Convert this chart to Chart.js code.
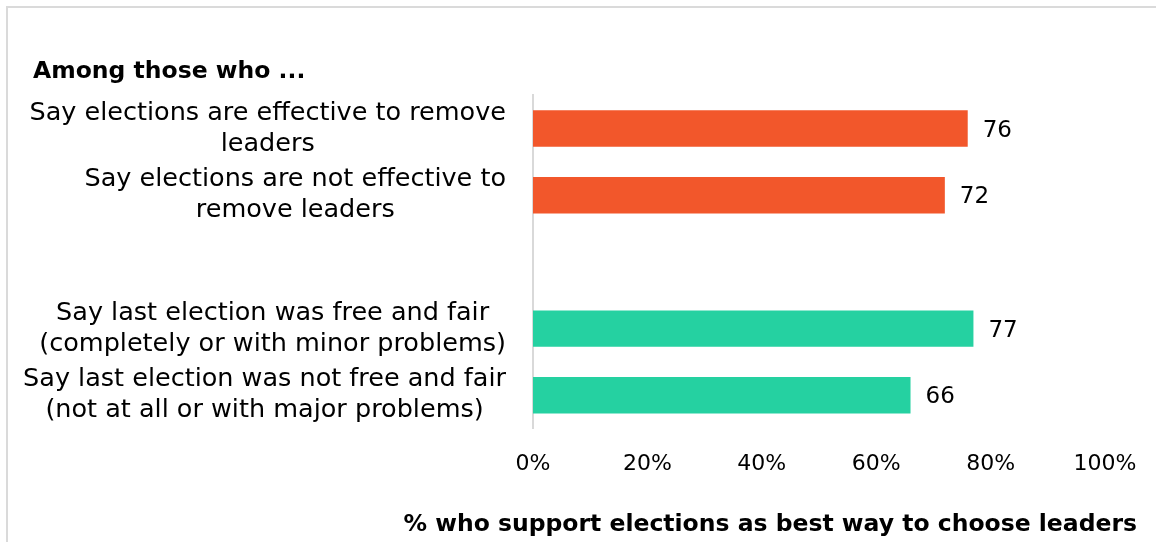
<!DOCTYPE html>
<html>
<head>
<meta charset="utf-8">
<script src="https://cdn.jsdelivr.net/npm/chart.js@4.4.1/dist/chart.umd.min.js"></script>
<style>
  html, body { margin: 0; padding: 0; background: #fff; overflow: hidden; }
  #frame { position: absolute; left: 6px; top: 6px; width: 1200px; height: 600px;
           border-top: 2px solid #dadada; border-left: 2px solid #dadada; }
  #wrap { position: absolute; left: 0; top: 0; width: 1156px; height: 542px; }
</style>
</head>
<body>
<div id="frame"></div>
<div id="wrap"><canvas id="chart"></canvas></div>
<script>
// --- データ ---
const categories = [
    ['Say elections are effective to remove', 'leaders'],
    ['Say elections are not effective to', 'remove leaders'],
    [''],
    ['Say last election was free and fair', '(completely or with minor problems)'],
    ['Say last election was not free and fair', '(not at all or with major problems)']
];
const values = [76, 72, null, 77, 66];
const barColors = ['#F2572B', '#F2572B', '#ffffff', '#25D1A1', '#25D1A1'];
const xTicks = [0, 20, 40, 60, 80, 100];
const chartTitle = 'Among those who ...';
const axisTitle = '% who support elections as best way to choose leaders';

const FONT = '"DejaVu Sans", sans-serif';

// カテゴリラベル: 各ラベル内で中央揃え、ブロックは右揃え
const categoryLabelPlugin = {
    id: 'categoryLabels',
    afterDraw(chart) {
        const { ctx, scales: { y } } = chart;
        ctx.save();
        ctx.font = `25.5px ${FONT}`;
        ctx.fillStyle = '#000';
        ctx.textAlign = 'center';
        ctx.textBaseline = 'middle';
        const rightEdge = y.right - 27;
        categories.forEach((lines, i) => {
            const maxW = Math.max(...lines.map(l => ctx.measureText(l).width));
            const cx = rightEdge - maxW / 2;
            const cy = y.getPixelForValue(i);
            lines.forEach((line, j) => {
                ctx.fillText(line, cx, cy + (j - (lines.length - 1) / 2) * 31);
            });
        });
        ctx.restore();
    }
};

// 値ラベル
const valueLabelPlugin = {
    id: 'valueLabels',
    afterDatasetsDraw(chart) {
        const { ctx } = chart;
        const meta = chart.getDatasetMeta(0);
        ctx.save();
        ctx.font = `23px ${FONT}`;
        ctx.fillStyle = '#000';
        ctx.textAlign = 'left';
        ctx.textBaseline = 'middle';
        meta.data.forEach((bar, i) => {
            if (values[i] == null) return;
            ctx.fillText(String(values[i]), bar.x + 15, bar.y + 2);
        });
        ctx.restore();
    }
};

new Chart(document.getElementById('chart'), {
    type: 'bar',
    data: {
        labels: categories,
        datasets: [{
            data: values,
            backgroundColor: barColors,
            barPercentage: 0.545,
            categoryPercentage: 1
        }]
    },
    options: {
        indexAxis: 'y',
        responsive: true,
        maintainAspectRatio: false,
        animation: false,
        layout: { padding: { left: 33, right: 19, top: 0, bottom: 3 } },
        scales: {
            x: {
                min: 0,
                max: 100,
                grid: { display: false, drawTicks: false },
                border: { display: false },
                afterBuildTicks: (scale) => { scale.ticks = xTicks.map(v => ({ value: v })); },
                afterFit: (scale) => { scale.paddingRight = 51; },
                ticks: {
                    color: '#000',
                    padding: 22,
                    font: { family: FONT, size: 22 },
                    callback: (v) => v + '%'
                }
            },
            y: {
                grid: { display: false, drawTicks: false },
                border: { display: true, color: '#d9d9d9', width: 2 },
                ticks: { display: false },
                afterFit: (scale) => { scale.width = 500; }
            }
        },
        plugins: {
            legend: { display: false },
            tooltip: { enabled: false },
            title: {
                display: true,
                text: chartTitle,
                align: 'start',
                color: '#000',
                font: { family: FONT, size: 23.5, weight: 'bold', lineHeight: 1.2 },
                padding: { top: 58, bottom: 9 }
            },
            subtitle: {
                display: true,
                text: axisTitle,
                position: 'bottom',
                align: 'end',
                color: '#000',
                font: { family: FONT, size: 23.5, weight: 'bold', lineHeight: 1.2 },
                padding: { top: 11.8, bottom: 0 }
            }
        }
    },
    plugins: [categoryLabelPlugin, valueLabelPlugin]
});
</script>
</body>
</html>
